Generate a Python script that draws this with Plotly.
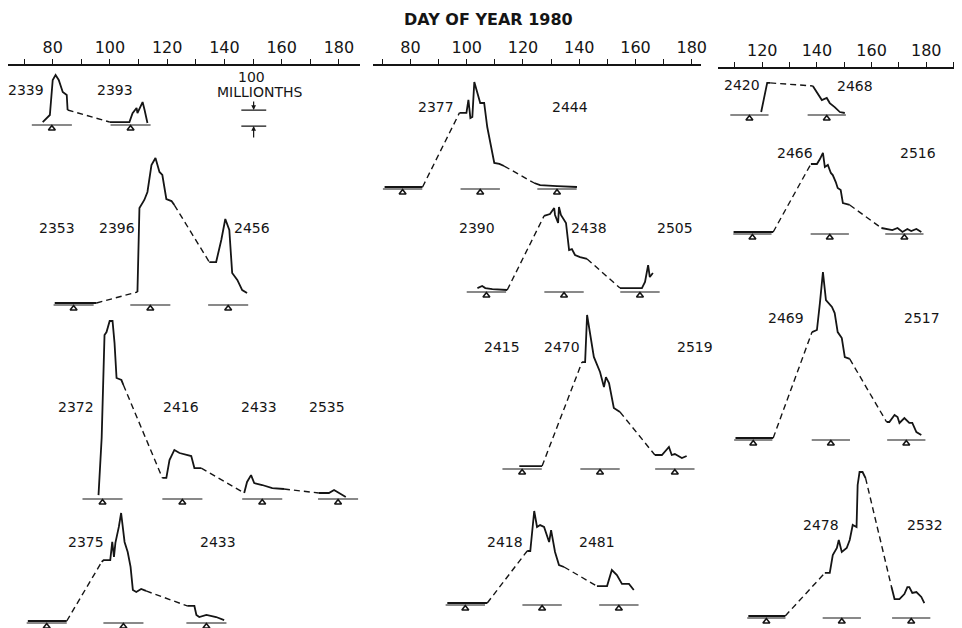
import plotly.graph_objects as go

N = None
# ---------------- data: day of year 1980 vs. spot-group area (millionths) ----------------
# column 1
c1a_day  = [76.5, 79.0, 80.0, 81.0, 82.1, 83.5, 84.9, 85.2, N, 99.9, 106.8, 107.9, 109.3, 109.6, 111.4, 112.1, 113.1]
c1a_area = [6, 50, 269, 300, 269, 194, 175, 81, N, 6, 6, 62, 94, 62, 131, 81, 0]
c1a_cmp  = [79.7, 107.2]
c1a_ids  = ["2339", "2393"]

c1b_day  = [80.7, 95.3, N, 109.6, 110.3, 112.0, 113.1, 114.5, 115.9, 117.3, 118.3, 119.7, 121.5, 122.5,
            N, 134.7, 137.1, 138.9, 140.3, 141.7, 142.7, 144.5, 146.2, 147.9]
c1b_area = [0, 0, N, 69, 594, 644, 694, 862, 906, 819, 800, 650, 637, 612,
            N, 256, 256, 394, 525, 456, 188, 144, 81, 63]
c1b_cmp  = [87.3, 114.1, 141.3]
c1b_ids  = ["2353", "2396", "2456"]

c1c_day  = [96.0, 97.1, 98.1, 98.8, 99.9, 100.9, 101.6, 102.3, 104.0, 104.7,
            N, 118.3, 119.7, 120.8, 122.5, 124.3, 126.7, 128.4, 129.5, 131.9,
            N, 146.9, 147.9, 149.3, 150.4, 153.2, 156.7, 160.8,
            N, 173.0, 176.5, 178.3, 180.0, 182.4]
c1c_area = [12, 369, 1012, 1031, 1100, 1100, 962, 744, 731, 700,
            N, 119, 119, 231, 294, 275, 262, 256, 181, 181,
            N, 25, 94, 137, 87, 75, 56, 50,
            N, 25, 25, 44, 25, 0]
c1c_cmp  = [97.4, 125.3, 153.2, 179.7]
c1c_ids  = ["2372", "2416", "2433", "2535"]

c1d_day  = [71.3, 84.9, N, 97.1, 97.8, 100.1, 100.8, 101.4, 101.9, 103.1, 103.9, 105.1, 106.2, 107.2, 108.0,
            109.2, 110.9, 112.6, N, 127.0, 129.5, 130.2, 131.2, 133.7, 137.1, 139.9]
c1d_area = [0, 0, N, 369, 381, 381, 494, 400, 488, 588, 675, 494, 431, 338, 194,
            181, 200, 188, N, 94, 94, 38, 25, 38, 25, 6]
c1d_cmp  = [77.9, 104.7, 133.7]
c1d_ids  = ["2375", "2433"]

# column 2
c2a_day  = [70.8, 84.3, N, 97.4, 99.9, 100.6, 101.3, 102.0, 102.7, 104.5, 104.8, 106.2, 107.3, 109.8, 111.6, 113.3,
            N, 124.0, 126.1, 132.1, 139.2]
c2a_area = [0, 0, N, 463, 463, 544, 431, 438, 656, 544, 525, 525, 375, 150, 144, 131,
            N, 25, 12, 6, 0]
c2a_cmp  = [77.2, 104.8, 132.1]
c2a_ids  = ["2377", "2444"]

c2b_day  = [103.8, 105.5, 106.6, 109.1, 114.4, N, 127.5, 129.6, 131.1, 131.4, 132.5, 132.8, 133.5, 134.6, 135.3,
            136.4, 137.4, 138.5, 140.3, 142.8, N, 154.5, 157.0, 162.3, 163.4, 164.5, 165.1, 166.2]
c2b_area = [12, 25, 12, 6, 0, N, 463, 475, 512, 469, 419, 519, 469, 438, 419,
            250, 256, 219, 206, 194, N, 12, 12, 12, 50, 156, 81, 106]
c2b_cmp  = [107.0, 134.6, 161.6]
c2b_ids  = ["2390", "2438", "2505"]

c2c_day  = [118.7, 126.8, N, 141.0, 142.1, 142.8, 145.2, 147.4, 148.8, 149.5, 150.6, 152.3, 154.5,
            N, 166.9, 169.4, 171.9, 172.9, 174.0, 176.5, 178.2]
c2c_area = [6, 6, N, 656, 656, 950, 688, 594, 500, 562, 525, 369, 344,
            N, 75, 75, 125, 75, 81, 56, 69]
c2c_cmp  = [119.7, 147.4, 174.0]
c2c_ids  = ["2415", "2470", "2519"]

c2d_day  = [93.1, 107.3, N, 121.5, 122.6, 124.0, 125.0, 126.1, 127.5, 129.3, 130.0, 131.4, 132.8, 134.6,
            N, 146.3, 149.9, 151.6, 153.4, 155.2, 157.7, 159.4]
c2d_area = [0, 0, N, 325, 325, 575, 475, 487, 475, 381, 456, 319, 237, 225,
            N, 106, 106, 206, 175, 119, 119, 81]
c2d_cmp  = [99.5, 126.8, 154.1]
c2d_ids  = ["2418", "2481"]

# column 3
c3a_day  = [119.6, 121.8, 122.9, N, 138.5, 140.4, 141.8, 143.6, 144.7, 146.5, 148.4, 150.2]
c3a_area = [6, 188, 188, N, 169, 113, 81, 94, 62, 37, 6, 0]
c3a_cmp  = [115.3, 143.6]
c3a_ids  = ["2420", "2468"]

c3b_day  = [109.5, 124.0, N, 137.8, 140.0, 141.1, 142.2, 142.9, 144.0, 145.1, 145.8, 146.9, 147.6, 148.7, 149.5, 152.0,
            N, 163.6, 167.6, 169.5, 171.3, 173.1, 174.5, 176.4, 178.2]
c3b_area = [0, 0, N, 425, 425, 456, 494, 406, 419, 369, 356, 312, 275, 262, 181, 169,
            N, 25, 12, 25, 0, 19, 6, 19, 0]
c3b_cmp  = [116.4, 144.7, 172.0]
c3b_ids  = ["2466", "2516"]

c3c_day  = [110.2, 124.0, N, 138.2, 140.0, 141.1, 142.2, 143.3, 145.5, 146.5, 147.6, 149.1, 150.2, 152.0,
            N, 165.5, 166.5, 168.4, 169.5, 170.2, 172.0, 173.8, 174.9, 176.4, 178.2]
c3c_area = [0, 0, N, 662, 675, 844, 1037, 862, 819, 781, 662, 625, 506, 494,
            N, 100, 100, 144, 131, 94, 125, 94, 94, 37, 19]
c3c_cmp  = [116.7, 145.1, 172.7]
c3c_ids  = ["2469", "2517"]

c3d_day  = [114.9, 128.4, N, 142.9, 144.7, 145.8, 147.3, 148.0, 149.1, 150.9, 152.0, 153.1, 154.5, 154.9, 155.6,
            156.7, 157.8, N, 167.3, 168.4, 170.2, 172.0, 173.1, 173.8, 174.9, 176.4, 178.2, 179.3]
c3d_area = [0, 0, N, 269, 269, 381, 425, 475, 400, 425, 475, 569, 556, 819, 900,
            900, 862, N, 181, 106, 106, 137, 181, 181, 144, 150, 119, 81]
c3d_cmp  = [121.5, 149.1, 174.5]
c3d_ids  = ["2478", "2532"]

x_ticks_c12 = [70, 80, 90, 100, 110, 120, 130, 140, 150, 160, 170, 180]
x_ticks_c3 = [110, 120, 130, 140, 150, 160, 170, 180, 190]
SCALE_MILLIONTHS = 100
CMP_HALF_SPAN = 7  # days either side of central-meridian passage

# ---------------- layout (pixel placement, in screen px of the 962x628 window) ----------------
W, H = 962, 628
OFF = 8                    # the page body adds an 8 px margin; compensate
PX_PER_100 = 16.0          # 100 millionths = 16 px
U = 100.0 / PX_PER_100     # millionths per pixel


def px_x(p):
    return (p - OFF) / W


def px_y(p):
    return 1 - (p - OFF) / H


COLS = {
    1: dict(px0=8, px1=362, ref_px=53, ref_day=80, ppd=2.88, axis_py=65, ticks=x_ticks_c12),
    2: dict(px0=375, px1=705, ref_px=413, ref_day=80, ppd=2.83, axis_py=65, ticks=x_ticks_c12),
    3: dict(px0=722, px1=962, ref_px=767, ref_day=120, ppd=2.75, axis_py=68, ticks=x_ticks_c3),
}

ROWS = [
    dict(col=1, base=123, day=c1a_day, area=c1a_area, cmp=c1a_cmp, ids=c1a_ids,
         lab=[(70.6, 206), (101.7, 206)]),
    dict(col=1, base=303, day=c1b_day, area=c1b_area, cmp=c1b_cmp, ids=c1b_ids,
         lab=[(81.4, 469), (102.6, 469), (149.7, 469)]),
    dict(col=1, base=497, day=c1c_day, area=c1c_area, cmp=c1c_cmp, ids=c1c_ids,
         lab=[(88.2, 562), (124.9, 562), (152.0, 562), (175.7, 562)]),
    dict(col=1, base=621, day=c1d_day, area=c1d_area, cmp=c1d_cmp, ids=c1d_ids,
         lab=[(91.8, 494), (137.8, 494)]),
    dict(col=2, base=187, day=c2a_day, area=c2a_area, cmp=c2a_cmp, ids=c2a_ids,
         lab=[(88.9, 500), (136.7, 500)]),
    dict(col=2, base=290, day=c2b_day, area=c2b_area, cmp=c2b_cmp, ids=c2b_ids,
         lab=[(103.8, 388), (143.5, 388), (174.0, 388)]),
    dict(col=2, base=467, day=c2c_day, area=c2c_area, cmp=c2c_cmp, ids=c2c_ids,
         lab=[(112.6, 750), (133.9, 750), (181.1, 750)]),
    dict(col=2, base=603, day=c2d_day, area=c2d_area, cmp=c2d_cmp, ids=c2d_ids,
         lab=[(113.7, 381), (146.3, 381)]),
    dict(col=3, base=113, day=c3a_day, area=c3a_area, cmp=c3a_cmp, ids=c3a_ids,
         lab=[(112.7, 175), (153.8, 169)]),
    dict(col=3, base=232, day=c3b_day, area=c3b_area, cmp=c3b_cmp, ids=c3b_ids,
         lab=[(132.0, 494), (177.1, 494)]),
    dict(col=3, base=438, day=c3c_day, area=c3c_area, cmp=c3c_cmp, ids=c3c_ids,
         lab=[(128.7, 750), (178.5, 750)]),
    dict(col=3, base=616, day=c3d_day, area=c3d_area, cmp=c3d_cmp, ids=c3d_ids,
         lab=[(141.5, 569), (179.6, 569)]),
]

INK = "#151515"
FONT = "DejaVu Sans"
BAR_DROP = 2.0 * U      # disk-passage bar sits ~2 px under the curve baseline
TRI_DROP = 5.5 * U      # triangle hangs just under the bar

fig = go.Figure()
layout = dict(width=W, height=H, margin=dict(l=0, r=0, t=0, b=0),
              paper_bgcolor="white", plot_bgcolor="rgba(0,0,0,0)", showlegend=False)

for c, spec in COLS.items():
    name = "xaxis" if c == 1 else f"xaxis{c}"
    lo = spec["ref_day"] + (spec["px0"] - spec["ref_px"]) / spec["ppd"]
    hi = spec["ref_day"] + (spec["px1"] - spec["ref_px"]) / spec["ppd"]
    layout[name] = dict(
        domain=[max(0, px_x(spec["px0"])), min(1, px_x(spec["px1"]))], range=[lo, hi],
        anchor="free", position=px_y(spec["axis_py"]), side="top",
        showline=True, linecolor=INK, linewidth=1.5,
        ticks="outside", ticklen=5, tickwidth=1.2, tickcolor=INK,
        tickmode="array", tickvals=spec["ticks"],
        ticktext=[str(t) if (t - 80) % 20 == 0 else "" for t in spec["ticks"]],
        tickfont=dict(family=FONT, size=16, color=INK),
        showgrid=False, zeroline=False, fixedrange=True,
    )

annotations = []
for i, r in enumerate(ROWS, start=1):
    yname = "yaxis" if i == 1 else f"yaxis{i}"
    b = r["base"] - OFF
    layout[yname] = dict(domain=[0, 1], range=[(b - H) * U, b * U],
                         visible=False, anchor="free", position=0, fixedrange=True)
    xref = "x" if r["col"] == 1 else f"x{r['col']}"
    yref = "y" if i == 1 else f"y{i}"

    # solid observed pieces
    fig.add_trace(go.Scatter(x=r["day"], y=r["area"], mode="lines", connectgaps=False,
                             line=dict(color=INK, width=1.8), xaxis=xref, yaxis=yref,
                             hoverinfo="skip"))
    # dashed links across the far side of the disk
    dx, dy = [], []
    d, a = r["day"], r["area"]
    for k, v in enumerate(d):
        if v is None:
            dx += [d[k - 1], d[k + 1], None]
            dy += [a[k - 1], a[k + 1], None]
    if dx:
        fig.add_trace(go.Scatter(x=dx, y=dy, mode="lines",
                                 line=dict(color=INK, width=1.4, dash="6px,4px"),
                                 xaxis=xref, yaxis=yref, hoverinfo="skip"))
    # disk-passage bars and CMP triangles
    bx, by = [], []
    for cm in r["cmp"]:
        bx += [cm - CMP_HALF_SPAN, cm + CMP_HALF_SPAN, None]
        by += [-BAR_DROP, -BAR_DROP, None]
    fig.add_trace(go.Scatter(x=bx, y=by, mode="lines", line=dict(color=INK, width=1.2),
                             xaxis=xref, yaxis=yref, hoverinfo="skip"))
    fig.add_trace(go.Scatter(x=r["cmp"], y=[-TRI_DROP] * len(r["cmp"]), mode="markers",
                             marker=dict(symbol="triangle-up-open", size=6, color=INK,
                                         line=dict(width=1.6, color=INK)),
                             xaxis=xref, yaxis=yref, hoverinfo="skip"))
    for txt, (lx, ly) in zip(r["ids"], r["lab"]):
        annotations.append(dict(text=txt, x=lx, y=ly, xref=xref, yref=yref, showarrow=False,
                                xanchor="center", yanchor="middle",
                                font=dict(family=FONT, size=14, color=INK)))

# 100-millionths scale key (uses row 1 axes)
key_day0, key_day1, key_mid = 145.9, 154.6, 150.2
key_top = 81
fig.add_trace(go.Scatter(x=[key_day0, key_day1, None, key_day0, key_day1],
                         y=[key_top, key_top, None, key_top - SCALE_MILLIONTHS, key_top - SCALE_MILLIONTHS],
                         mode="lines", line=dict(color=INK, width=1.3), xaxis="x", yaxis="y",
                         hoverinfo="skip"))
annotations.append(dict(x=key_mid, y=key_top, xref="x", yref="y", ax=0, ay=-10, showarrow=True,
                        arrowhead=2, arrowsize=0.8, arrowwidth=1.2, arrowcolor=INK, text=""))
annotations.append(dict(x=key_mid, y=key_top - SCALE_MILLIONTHS, xref="x", yref="y", ax=0, ay=13,
                        showarrow=True, arrowhead=2, arrowsize=0.8, arrowwidth=1.2, arrowcolor=INK, text=""))
annotations.append(dict(text="100", x=149.3, y=287, xref="x", yref="y", showarrow=False,
                        xanchor="center", yanchor="middle",
                        font=dict(family=FONT, size=14, color=INK)))
annotations.append(dict(text="MILLIONTHS", x=152.5, y=194, xref="x", yref="y", showarrow=False,
                        xanchor="center", yanchor="middle",
                        font=dict(family=FONT, size=14, color=INK)))

annotations.append(dict(text="<b>DAY OF YEAR 1980</b>", x=px_x(492), y=px_y(19),
                        xref="paper", yref="paper", xanchor="center", yanchor="middle",
                        showarrow=False, font=dict(family=FONT, size=16, color=INK)))

layout["annotations"] = annotations
fig.update_layout(**layout)
fig.write_html("out.html")
